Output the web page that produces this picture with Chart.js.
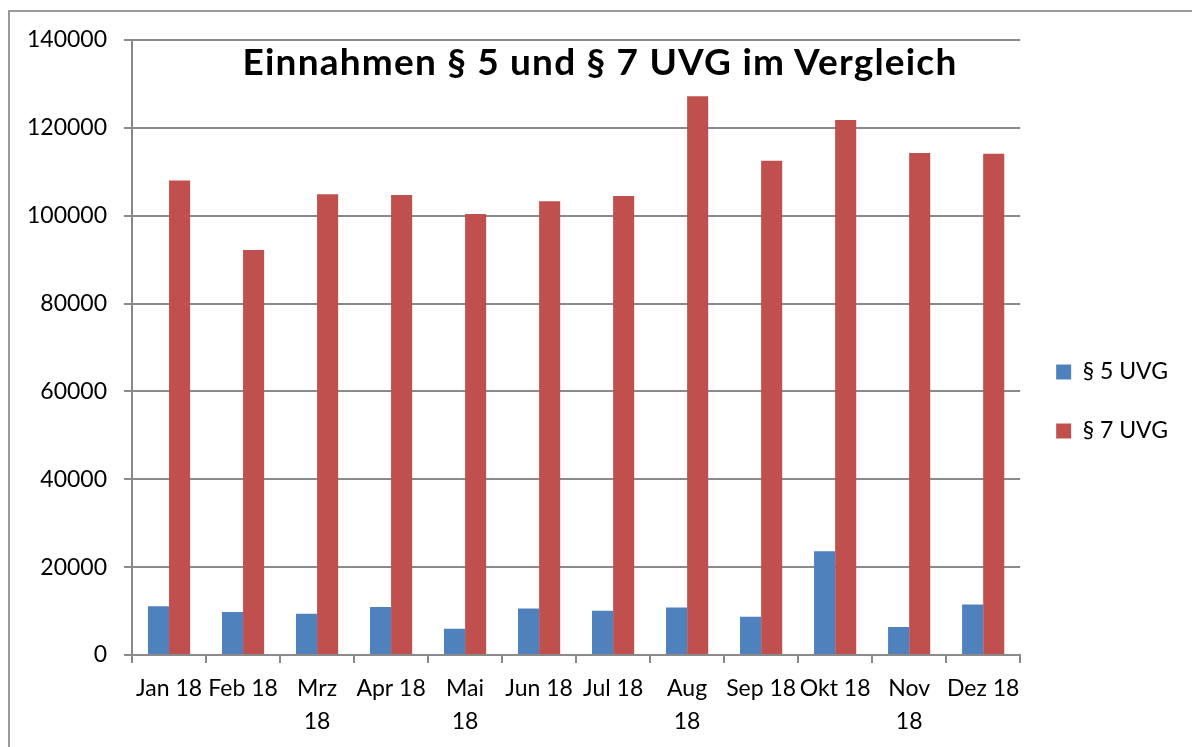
<!DOCTYPE html>
<html>
<head>
<meta charset="utf-8">
<script src="https://cdn.jsdelivr.net/npm/chart.js@4.4.1/dist/chart.umd.min.js"></script>
<style>
  html, body { margin: 0; padding: 0; background: #fff; overflow: hidden; width: 1192px; height: 747px; }
  #frame { position: absolute; left: 8px; top: 10px; width: 1300px; height: 900px; border-left: 2px solid #9a9a9a; border-top: 2px solid #9a9a9a; box-sizing: border-box; }
  #wrap { position: absolute; left: 0; top: 0; width: 1192px; height: 763px; }
  #title { position: absolute; left: 0; width: 1200px; top: 41px; text-align: center; font-family: Lato, sans-serif; font-weight: bold; font-size: 37px; letter-spacing: 1.2px; color: #000; line-height: 40px; }
</style>
</head>
<body>
<div id="frame"></div>
<div id="wrap"><canvas id="c"></canvas></div>
<div id="title">Einnahmen § 5 und § 7 UVG im Vergleich</div>
<script>
const categories = ['Jan 18', 'Feb 18', ['Mrz', '18'], 'Apr 18', ['Mai', '18'], 'Jun 18', 'Jul 18', ['Aug', '18'], 'Sep 18', 'Okt 18', ['Nov', '18'], 'Dez 18'];
const seriesNames = ['§ 5 UVG', '§ 7 UVG'];
const uvg5 = [11100, 9800, 9400, 10900, 6000, 10600, 10100, 10800, 8700, 23600, 6400, 11500];
const uvg7 = [108000, 92200, 104900, 104700, 100400, 103300, 104500, 127200, 112500, 121800, 114300, 114100];
const yMin = 0, yMax = 140000, yStep = 20000;

const gridColor = '#8a8a8a';
const tickFont = { family: 'Lato, sans-serif', size: 23, lineHeight: 1.43 };

new Chart(document.getElementById('c'), {
  type: 'bar',
  data: {
    labels: categories,
    datasets: [
      { label: seriesNames[0], data: uvg5, backgroundColor: '#4F81BD', borderWidth: 0 },
      { label: seriesNames[1], data: uvg7, backgroundColor: '#C0504D', borderWidth: 0 }
    ]
  },
  options: {
    responsive: true,
    maintainAspectRatio: false,
    animation: false,
    layout: { padding: { left: 10, right: 14, top: 40, bottom: 0 } },
    datasets: { bar: { categoryPercentage: 0.57, barPercentage: 1.0 } },
    plugins: {
      legend: {
        position: 'right',
        labels: {
          boxWidth: 15, boxHeight: 15, padding: 36,
          color: '#000',
          font: { family: 'Lato, sans-serif', size: 23 }
        }
      },
      tooltip: { enabled: false },
      title: { display: false }
    },
    scales: {
      x: {
        grid: { display: true, drawOnChartArea: false, drawTicks: true, tickLength: 8, color: gridColor, lineWidth: 2, offset: true },
        border: { display: true, color: gridColor, width: 2 },
        ticks: { color: '#000', font: tickFont, padding: 9, maxRotation: 0, minRotation: 0, autoSkip: false },
        afterFit: (s) => { s.height = 108; }
      },
      y: {
        min: yMin, max: yMax,
        grid: { color: gridColor, lineWidth: 2, tickLength: 8, drawTicks: true },
        border: { display: true, color: gridColor, width: 2 },
        ticks: { stepSize: yStep, color: '#000', font: { family: 'Lato, sans-serif', size: 23 }, padding: 17, callback: (v) => String(v) }
      }
    }
  }
});
</script>
</body>
</html>
